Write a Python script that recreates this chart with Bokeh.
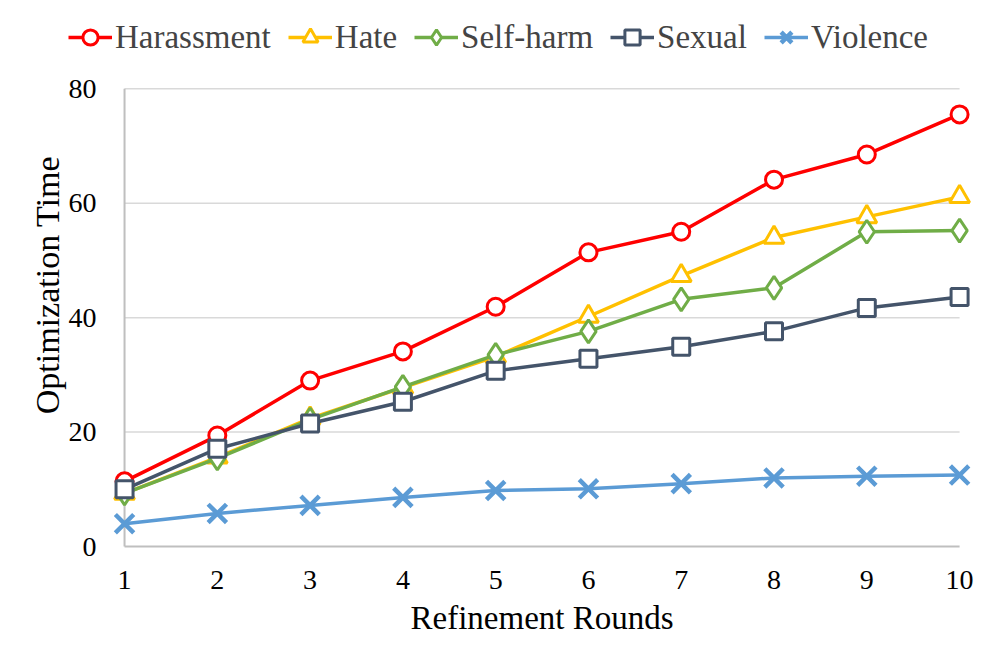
from bokeh.plotting import figure
from bokeh.models import Range1d, FixedTicker, Legend, LegendItem, Title
from bokeh.embed import file_html
from bokeh.resources import INLINE

rounds = [1, 2, 3, 4, 5, 6, 7, 8, 9, 10]
harassment = [11.4, 19.4, 29.0, 34.1, 41.9, 51.4, 55.0, 64.1, 68.5, 75.5]
hate = [9.3, 15.6, 22.4, 27.8, 33.2, 40.2, 47.3, 54.0, 57.6, 61.1]
self_harm = [9.3, 15.4, 22.2, 27.9, 33.5, 37.6, 43.2, 45.2, 55.0, 55.2]
sexual = [10.0, 17.1, 21.5, 25.3, 30.7, 32.8, 34.9, 37.6, 41.7, 43.6]
violence = [4.0, 5.8, 7.2, 8.6, 9.8, 10.1, 11.0, 12.0, 12.3, 12.5]
y_ticks = [0, 20, 40, 60, 80]

series = [
    ("Harassment", harassment, "#FF0000", "circle", 17),
    ("Hate", hate, "#FFC000", "triangle", 20),
    ("Self-harm", self_harm, "#70AD47", "diamond", 23),
    ("Sexual", sexual, "#44546A", "square", 17),
    ("Violence", violence, "#5B9BD5", "x", 26),
]

FONT = "Liberation Serif"
GRID = "#D9D9D9"

# frame is enlarged to hold the legend; the y axis is pinned at round 1
p = figure(width=988, height=653, output_backend="svg", toolbar_location=None,
           x_range=Range1d(-0.283, 10.15), y_range=Range1d(-2.6, 94.0),
           min_border_left=5, min_border_right=15, min_border_top=8,
           min_border_bottom=92)
p.outline_line_color = None
p.xgrid.visible = False
p.ygrid.visible = False

x0 = rounds[0]
x1 = rounds[-1]
p.segment(x0=[x0] * 4, x1=[x1] * 4, y0=y_ticks[1:], y1=y_ticks[1:],
          line_color=GRID, line_width=1.5)
p.segment(x0=[x0, x0], x1=[x1, x0], y0=[0, 0], y1=[0, y_ticks[-1]],
          line_color="#BFBFBF", line_width=2)

items = []
for name, vals, color, marker, size in series:
    ln = p.line(rounds, vals, line_color=color, line_width=3.5)
    if marker == "x":
        sc = p.scatter(rounds, vals, marker="x", size=size, line_color=color,
                       line_width=4.5)
    else:
        sc = p.scatter(rounds, vals, marker=marker, size=size, line_color=color,
                       fill_color="white", line_width=3)
    items.append(LegendItem(label=name, renderers=[ln, sc]))

for ax in (p.xaxis[0], p.yaxis[0]):
    ax.axis_line_color = None
    ax.major_tick_line_color = None
    ax.minor_tick_line_color = None
    ax.major_label_text_font = FONT
    ax.major_label_text_font_size = "28px"
    ax.major_label_text_color = "black"
    ax.axis_label_text_font = FONT
    ax.axis_label_text_font_size = "34px"
    ax.axis_label_text_font_style = "normal"
    ax.axis_label_text_color = "black"

p.xaxis.ticker = FixedTicker(ticks=rounds)
p.yaxis.ticker = FixedTicker(ticks=y_ticks)
p.yaxis.fixed_location = x0
p.yaxis.axis_label = "Optimization Time"
p.xaxis.major_label_standoff = 3
p.yaxis.major_label_standoff = 22
p.yaxis.axis_label_standoff = 0

xtitle = Title(text="Refinement Rounds", align="left", offset=405,
               text_font=FONT, text_font_size="33px", text_font_style="normal",
               text_color="black", standoff=13)
p.add_layout(xtitle, "below")

legend = Legend(items=items, orientation="horizontal", location=(63, 505),
                label_text_font=FONT, label_text_font_size="33px",
                glyph_width=44, glyph_height=38, label_standoff=3, spacing=17,
                padding=0, margin=0, border_line_color=None,
                background_fill_alpha=0)
p.add_layout(legend, "center")

open("out.html", "w").write(file_html(p, INLINE))
